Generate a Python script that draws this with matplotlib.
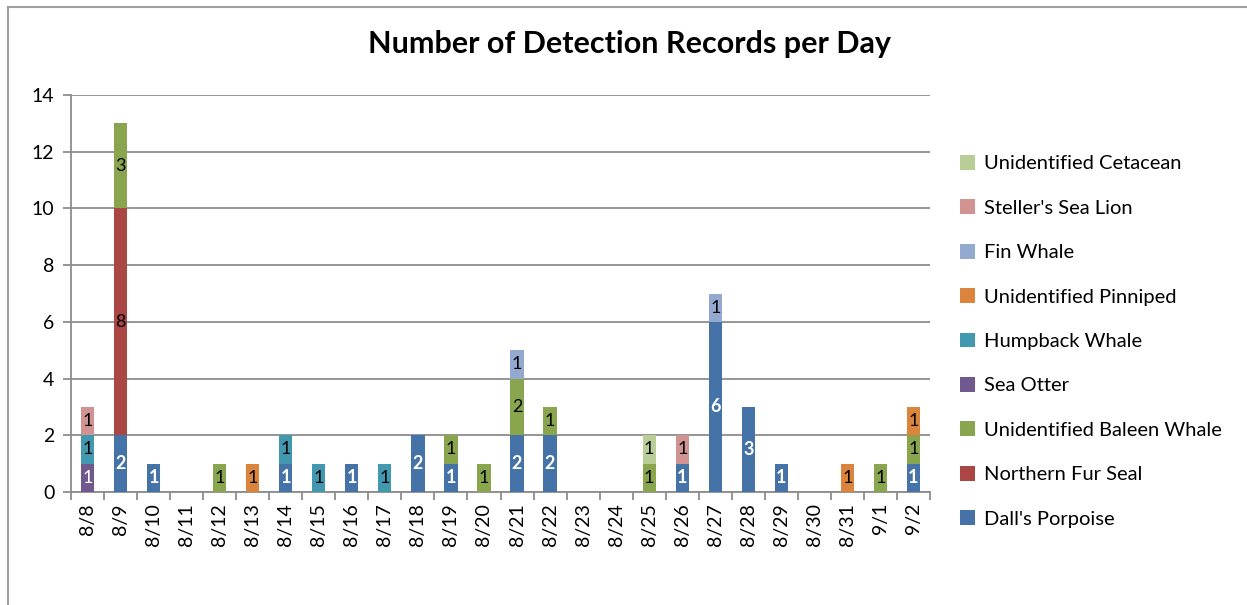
import matplotlib
matplotlib.use("Agg")
import matplotlib.pyplot as plt
import numpy as np
from matplotlib.lines import Line2D
from matplotlib.patches import Patch

plt.rcParams['font.family'] = ['Lato', 'DejaVu Sans']

dates = ["8/8", "8/9", "8/10", "8/11", "8/12", "8/13", "8/14", "8/15", "8/16", "8/17",
         "8/18", "8/19", "8/20", "8/21", "8/22", "8/23", "8/24", "8/25", "8/26", "8/27",
         "8/28", "8/29", "8/30", "8/31", "9/1", "9/2"]

dalls_porpoise      = [0, 2, 1, 0, 0, 0, 1, 0, 1, 0, 2, 1, 0, 2, 2, 0, 0, 0, 1, 6, 3, 1, 0, 0, 0, 1]
northern_fur_seal   = [0, 8, 0, 0, 0, 0, 0, 0, 0, 0, 0, 0, 0, 0, 0, 0, 0, 0, 0, 0, 0, 0, 0, 0, 0, 0]
unid_baleen_whale   = [0, 3, 0, 0, 1, 0, 0, 0, 0, 0, 0, 1, 1, 2, 1, 0, 0, 1, 0, 0, 0, 0, 0, 0, 1, 1]
sea_otter           = [1, 0, 0, 0, 0, 0, 0, 0, 0, 0, 0, 0, 0, 0, 0, 0, 0, 0, 0, 0, 0, 0, 0, 0, 0, 0]
humpback_whale      = [1, 0, 0, 0, 0, 0, 1, 1, 0, 1, 0, 0, 0, 0, 0, 0, 0, 0, 0, 0, 0, 0, 0, 0, 0, 0]
unid_pinniped       = [0, 0, 0, 0, 0, 1, 0, 0, 0, 0, 0, 0, 0, 0, 0, 0, 0, 0, 0, 0, 0, 0, 0, 1, 0, 1]
fin_whale           = [0, 0, 0, 0, 0, 0, 0, 0, 0, 0, 0, 0, 0, 1, 0, 0, 0, 0, 0, 1, 0, 0, 0, 0, 0, 0]
stellers_sea_lion   = [1, 0, 0, 0, 0, 0, 0, 0, 0, 0, 0, 0, 0, 0, 0, 0, 0, 0, 1, 0, 0, 0, 0, 0, 0, 0]
unid_cetacean       = [0, 0, 0, 0, 0, 0, 0, 0, 0, 0, 0, 0, 0, 0, 0, 0, 0, 1, 0, 0, 0, 0, 0, 0, 0, 0]

series = [
    ("Dall's Porpoise", dalls_porpoise, "#4572A7", "white", "bold"),
    ("Northern Fur Seal", northern_fur_seal, "#AA4643", "black", "normal"),
    ("Unidentified Baleen Whale", unid_baleen_whale, "#89A54E", "black", "normal"),
    ("Sea Otter", sea_otter, "#71588F", "white", "normal"),
    ("Humpback Whale", humpback_whale, "#4198AF", "black", "normal"),
    ("Unidentified Pinniped", unid_pinniped, "#DB843D", "black", "normal"),
    ("Fin Whale", fin_whale, "#93A9CF", "black", "normal"),
    ("Steller's Sea Lion", stellers_sea_lion, "#D19392", "black", "normal"),
    ("Unidentified Cetacean", unid_cetacean, "#B9CD96", "black", "normal"),
]

fig = plt.figure(figsize=(12.47, 6.05), dpi=100)
ax = fig.add_axes([71/1247, 1-492/605, (930-71)/1247, (492-95)/605])

x = np.arange(len(dates))
bottom = np.zeros(len(dates))
handles = []
for name, vals, color, tcol, tw in series:
    v = np.array(vals, dtype=float)
    ax.bar(x, v, 0.4, bottom=bottom, color=color, zorder=3)
    for xi, vi, bi in zip(x, v, bottom):
        if vi > 0:
            ax.text(xi, bi + vi/2, f"{int(vi)}", ha='center', va='center',
                    color=tcol, fontweight=tw, fontsize=13, zorder=4)
    bottom += v
    handles.append(Patch(facecolor=color, label=name))

ax.set_xlim(-0.5, len(dates) - 0.5)
ax.set_ylim(0, 14)
ax.set_yticks(np.arange(0, 15, 2))
ax.yaxis.grid(True, color="#8C8C8C", linewidth=1.3, zorder=0)
ax.set_axisbelow(True)
ax.set_xticks(x)
ax.set_xticklabels(dates, rotation=90, fontsize=14)
ax.set_xticks(np.arange(-0.5, len(dates), 1), minor=True)
ax.tick_params(axis='x', which='major', length=0, pad=8)
ax.tick_params(axis='x', which='minor', length=6, color="#8C8C8C", width=1.3)
ax.tick_params(axis='y', length=6, color="#8C8C8C", width=1.3, labelsize=14, pad=6)
for s in ['top', 'right']:
    ax.spines[s].set_visible(False)
for s in ['left', 'bottom']:
    ax.spines[s].set_color("#8C8C8C")
    ax.spines[s].set_linewidth(1.3)

fig.text(630/1247, 1-44/605, "Number of Detection Records per Day", ha='center', va='center',
         fontsize=22, fontweight='bold')

fig.legend(handles=handles[::-1], loc='upper left', bbox_to_anchor=(952/1247, 1-147/605),
           frameon=False, fontsize=14.5, handlelength=0.75, handleheight=0.75,
           labelspacing=1.34, handletextpad=0.45, borderaxespad=0)

fig.add_artist(Line2D([8/1247, 8/1247], [0, 1-7/605], color="#A0A0A0", linewidth=1.5))
fig.add_artist(Line2D([8/1247, 1], [1-7/605, 1-7/605], color="#A0A0A0", linewidth=1.5))

fig.savefig("out.png", dpi=100)
